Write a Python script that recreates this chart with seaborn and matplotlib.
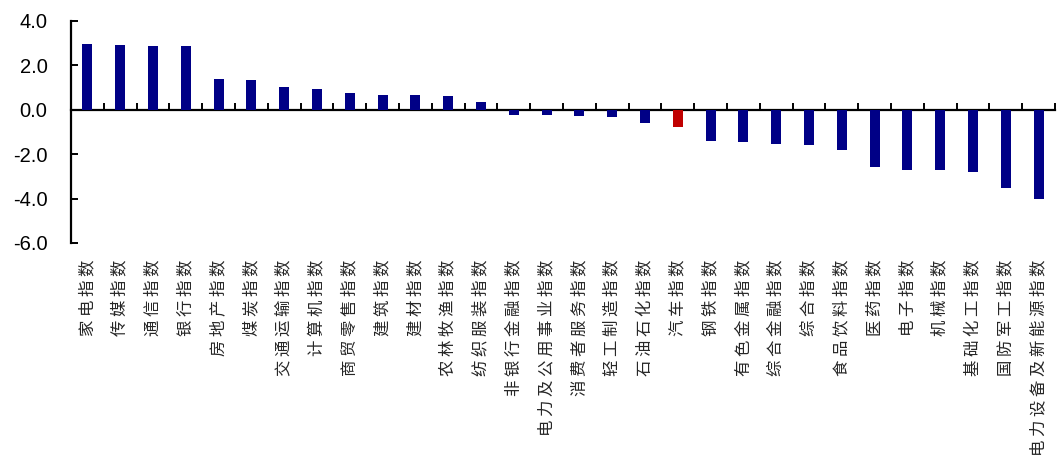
import numpy as np
import pandas as pd
import matplotlib
matplotlib.use("Agg")
import matplotlib.pyplot as plt
import seaborn as sns

# Index names and weekly changes (%)
categories = [
    "家电指数", "传媒指数", "通信指数", "银行指数", "房地产指数", "煤炭指数",
    "交通运输指数", "计算机指数", "商贸零售指数", "建筑指数", "建材指数",
    "农林牧渔指数", "纺织服装指数", "非银行金融指数", "电力及公用事业指数",
    "消费者服务指数", "轻工制造指数", "石油石化指数", "汽车指数", "钢铁指数",
    "有色金属指数", "综合金融指数", "综合指数", "食品饮料指数", "医药指数",
    "电子指数", "机械指数", "基础化工指数", "国防军工指数", "电力设备及新能源指数",
]
values = [
    2.97, 2.91, 2.87, 2.87, 1.38, 1.34,
    1.04, 0.91, 0.77, 0.64, 0.64,
    0.60, 0.33, -0.23, -0.22,
    -0.27, -0.32, -0.59, -0.78, -1.40,
    -1.45, -1.54, -1.59, -1.83, -2.58,
    -2.70, -2.73, -2.81, -3.51, -4.04,
]
highlight = "汽车指数"
y_ticks = [4.0, 2.0, 0.0, -2.0, -4.0, -6.0]

navy = "#000086"
red = "#C00000"
colors = [red if c == highlight else navy for c in categories]

df = pd.DataFrame({"category": categories, "value": values})

sns.set_style("white")
plt.rcParams["font.family"] = ["Noto Sans CJK SC", "DejaVu Sans"]
plt.rcParams["axes.unicode_minus"] = False

W, H = 1061, 468
fig = plt.figure(figsize=(W / 100, H / 100), dpi=100)
ax = fig.add_axes([71 / W, 1 - 243 / H, (1055 - 71) / W, (243 - 20.7) / H])

sns.barplot(data=df, x="category", y="value", hue="category",
            palette=colors, width=0.3, legend=False, ax=ax,
            saturation=1, linewidth=0)

ax.set_xlim(-0.5, len(categories) - 0.5)
ax.set_ylim(-6, 4)
ax.set_xlabel("")
ax.set_ylabel("")

# y axis
ax.set_yticks(y_ticks)
ax.set_yticklabels([f"{t:.1f}" for t in y_ticks], family="Liberation Sans", fontsize=14.5)
ax.tick_params(axis="y", left=True, direction="in", length=5, width=1.4,
               pad=17, colors="black")
for s in ("top", "right", "bottom"):
    ax.spines[s].set_visible(False)
ax.spines["left"].set_linewidth(1.6)
ax.spines["left"].set_color("black")

# category labels along the bottom, stacked vertically
ax.set_xticks(range(len(categories)))
ax.set_xticklabels([" ".join(c) for c in categories], rotation=90, fontsize=11.8)
ax.tick_params(axis="x", bottom=False, length=0, pad=12)

# zero line with category separators
zero = ax.secondary_xaxis(0, transform=ax.transData)
zero.set_xticks(np.arange(len(categories) + 1) - 0.5)
zero.tick_params(axis="x", bottom=True, direction="in", length=5, width=1.4,
                 labelbottom=False, colors="black")
zero.spines["bottom"].set_linewidth(1.6)
zero.spines["bottom"].set_color("black")

fig.savefig("out.png", dpi=100)
